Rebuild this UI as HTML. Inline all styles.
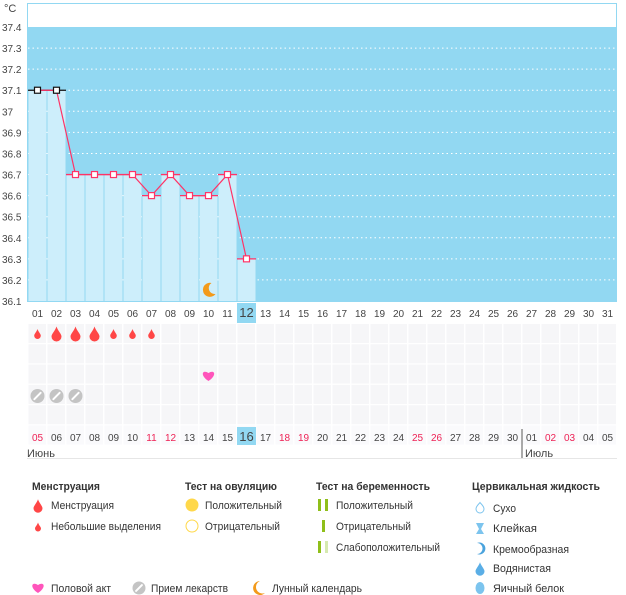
<!DOCTYPE html>
<html><head><meta charset="utf-8"><style>
body{margin:0;background:#fff;font-family:"Liberation Sans","DejaVu Sans",sans-serif;}
svg{display:block}
text{font-family:"Liberation Sans","DejaVu Sans",sans-serif;}
</style></head><body>
<svg id="c" width="626" height="595"></svg>
<script>
const days=['01','02','03','04','05','06','07','08','09','10','11','12','13','14','15','16','17','18','19','20','21','22','23','24','25','26','27','28','29','30','31'];
const temps=[37.1,37.1,36.7,36.7,36.7,36.7,36.6,36.7,36.6,36.6,36.7,36.3];
const yTicks=[36.1,36.2,36.3,36.4,36.5,36.6,36.7,36.8,36.9,37,37.1,37.2,37.3,37.4];
const dates=['05','06','07','08','09','10','11','12','13','14','15','16','17','18','19','20','21','22','23','24','25','26','27','28','29','30','01','02','03','04','05'];
const redDates=[0,6,7,13,14,20,21,27,28];
const bleeding=[1,2,2,2,1,1,1];
const sexDays=[10];
const pillDays=[1,2,3];
const moonDays=[10];
const todayIdx=11;

const NS='http://www.w3.org/2000/svg';
const svg=document.getElementById('c');
function mk(t,a,p){const e=document.createElementNS(NS,t);for(const k in a)e.setAttribute(k,a[k]);(p||svg).appendChild(e);return e;}
const X0=28,CW=19,Y0=301,YTOP=27;
const x=i=>X0+CW*i;
const y=v=>Y0-(v-36.1)/1.3*(Y0-YTOP);

let g=mk('g',{});
mk('rect',{x:27.5,y:3.5,width:589,height:298,fill:'#fff',stroke:'#92d8f2'},g);
mk('rect',{x:28,y:YTOP,width:589,height:Y0-YTOP,fill:'#92d8f2'},g);
yTicks.forEach(v=>{
 if(v>36.1&&v<37.4){const l=mk('line',{x1:28,x2:617,y1:y(v),y2:y(v),stroke:'#fff','stroke-dasharray':'1.5 3'},g);}
 const t=mk('text',{x:2,y:y(v)+4,'font-size':10,fill:'#444'},g);t.textContent=String(v);
 
});
const u=mk('text',{x:4,y:12,'font-size':11,fill:'#444'});u.textContent='°C';
temps.forEach((v,i)=>{
 const b=mk('rect',{x:x(i)+0.5,y:y(v),width:CW-1,height:Y0-y(v),fill:'#cdeefb'},g);
 
});
temps.forEach((v,i)=>{const l=mk('line',{x1:x(i),x2:x(i+1),y1:y(v),y2:y(v),stroke:i<2?'#111':'#ff3366','stroke-width':1.3},g);});
let pts=temps.map((v,i)=>(x(i)+CW/2)+','+y(v)).join(' ');
const pl=mk('polyline',{points:pts,fill:'none',stroke:'#ff3366','stroke-width':1.2},g);
temps.forEach((v,i)=>{const p=mk('rect',{x:x(i)+CW/2-3,y:y(v)-3,width:6,height:6,fill:'#fff',stroke:i<2?'#111':'#ff3366','stroke-width':1.2},g);});
moonDays.forEach(d=>{const cx=x(d-1)+CW/2,cy=290;const m=mk('path',{d:`M${cx+3},${cy-7} A7,7 0 1,0 ${cx+7},${cy+4} A6,6 0 0,1 ${cx+3},${cy-7}Z`,fill:'#f39a1b'},g);});
mk('rect',{x:x(todayIdx),y:303,width:CW,height:20,fill:'#92d8f2'});
days.forEach((d,i)=>{const t=mk('text',{x:x(i)+CW/2,y:317,'font-size':i==todayIdx?13:10,'text-anchor':'middle',fill:'#444'});t.textContent=d;});
for(let r=0;r<6;r++)for(let i=0;i<31;i++){mk('rect',{x:x(i)+0.5,y:324+r*20.3,width:CW-1.5,height:19,fill:r==5?'#fafafc':'#f6f6f8'});}
function drop(cx,cy,s,fill,nm){const p=mk('path',{d:`M${cx},${cy-s*1.5} C${cx+s*0.3},${cy-s*0.6} ${cx+s},${cy} ${cx+s},${cy+s*0.5} A${s},${s} 0 1,1 ${cx-s},${cy+s*0.5} C${cx-s},${cy} ${cx-s*0.3},${cy-s*0.6} ${cx},${cy-s*1.5}Z`,fill});}
bleeding.forEach((b,i)=>{drop(x(i)+CW/2,334,b==2?5:3.3,'#ff4646','bleeding-marker');});
function heart(cx,cy,nm){const p=mk('path',{d:`M${cx},${cy+5} C${cx-9},${cy-1} ${cx-6},${cy-7} ${cx},${cy-3} C${cx+6},${cy-7} ${cx+9},${cy-1} ${cx},${cy+5}Z`,fill:'#ff55bb'});}
sexDays.forEach(d=>heart(x(d-1)+CW/2,376,'sex-marker'));
function pill(cx,cy,r,nm){const gg=mk('g',{});mk('circle',{cx,cy,r,fill:'#c4c4c4'},gg);mk('line',{x1:cx-r*0.45,y1:cy+r*0.45,x2:cx+r*0.45,y2:cy-r*0.45,stroke:'#fff','stroke-width':2,'stroke-linecap':'round'},gg);}
pillDays.forEach(d=>pill(x(d-1)+CW/2,396,7,'pill-marker'));
mk('rect',{x:x(todayIdx),y:427,width:CW,height:18,fill:'#92d8f2'});
dates.forEach((d,i)=>{const t=mk('text',{x:x(i)+CW/2,y:441,'font-size':i==todayIdx?13:10,'text-anchor':'middle',fill:redDates.includes(i)?'#ee2255':'#444'});t.textContent=d;});
mk('line',{x1:x(26),x2:x(26),y1:429,y2:458,stroke:'#555'});
mk('line',{x1:27,x2:617,y1:458.5,y2:458.5,stroke:'#e6e6e6'});
let t=mk('text',{x:27,y:457,'font-size':11,fill:'#444'});t.textContent='Июнь';
t=mk('text',{x:x(26)+3,y:457,'font-size':11,fill:'#444'});t.textContent='Июль';
function txt(s,xx,yy,w,b){const e=mk('text',{x:xx,y:yy,'font-size':11,fill:'#333','font-weight':b?'bold':'normal',textLength:w,lengthAdjust:'spacingAndGlyphs'});e.textContent=s;}
txt('Менструация',32,490,68,1);txt('Тест на овуляцию',185,490,92,1);txt('Тест на беременность',316,490,114,1);txt('Цервикальная жидкость',472,490,128,1);
drop(38,506,4.5,'#ff4646','legend-icon');txt('Менструация',51,509,63);
drop(38,527,3,'#ff4646','legend-icon');txt('Небольшие выделения',51,530,110);
mk('circle',{cx:192,cy:505,r:6.5,fill:'#ffd84a'});txt('Положительный',205,509,77);
mk('circle',{cx:192,cy:526,r:6,fill:'#fff',stroke:'#ffd84a'});txt('Отрицательный',205,530,75);
mk('rect',{x:318,y:499,width:3,height:12,fill:'#8fbf1a'});mk('rect',{x:325,y:499,width:3,height:12,fill:'#8fbf1a'});txt('Положительный',336,509,77);
mk('rect',{x:322,y:520,width:3,height:12,fill:'#8fbf1a'});txt('Отрицательный',336,530,75);
mk('rect',{x:318,y:541,width:3,height:12,fill:'#8fbf1a'});mk('rect',{x:325,y:541,width:3,height:12,fill:'#d6eab0'});txt('Слабоположительный',336,551,104);
mk('path',{d:'M480,502.5 C481,504 484,506 484,509 A4,4 0 1,1 476,509 C476,506 479,504 480,502.5Z',fill:'none',stroke:'#7cc4ee'});txt('Сухо',493,512,23);
mk('path',{d:'M476,523 H484 L481,529 L484,534 H476 L479,529Z',fill:'#7cc4ee'});txt('Клейкая',493,532,44);
mk('path',{d:'M477,543 A6,6 0 1,1 477,554 A4,4 0 0,0 477,543Z',fill:'#4aa3dd'});txt('Кремообразная',493,553,76);
drop(480,569,4.5,'#5aaee6','legend-icon');txt('Водянистая',493,572,58);
mk('ellipse',{cx:480,cy:588,rx:4.5,ry:6,fill:'#7cc4ee'});txt('Яичный белок',493,592,71);
heart(38,588,'legend-icon');txt('Половой акт',51,592,60);
pill(139,588,6.5,'legend-icon');txt('Прием лекарств',151,592,77);
mk('path',{d:'M260,581 A7,7 0 1,0 265,593 A6,6 0 0,1 260,581Z',fill:'#f39a1b'});txt('Лунный календарь',272,592,90);
</script>
</body></html>
